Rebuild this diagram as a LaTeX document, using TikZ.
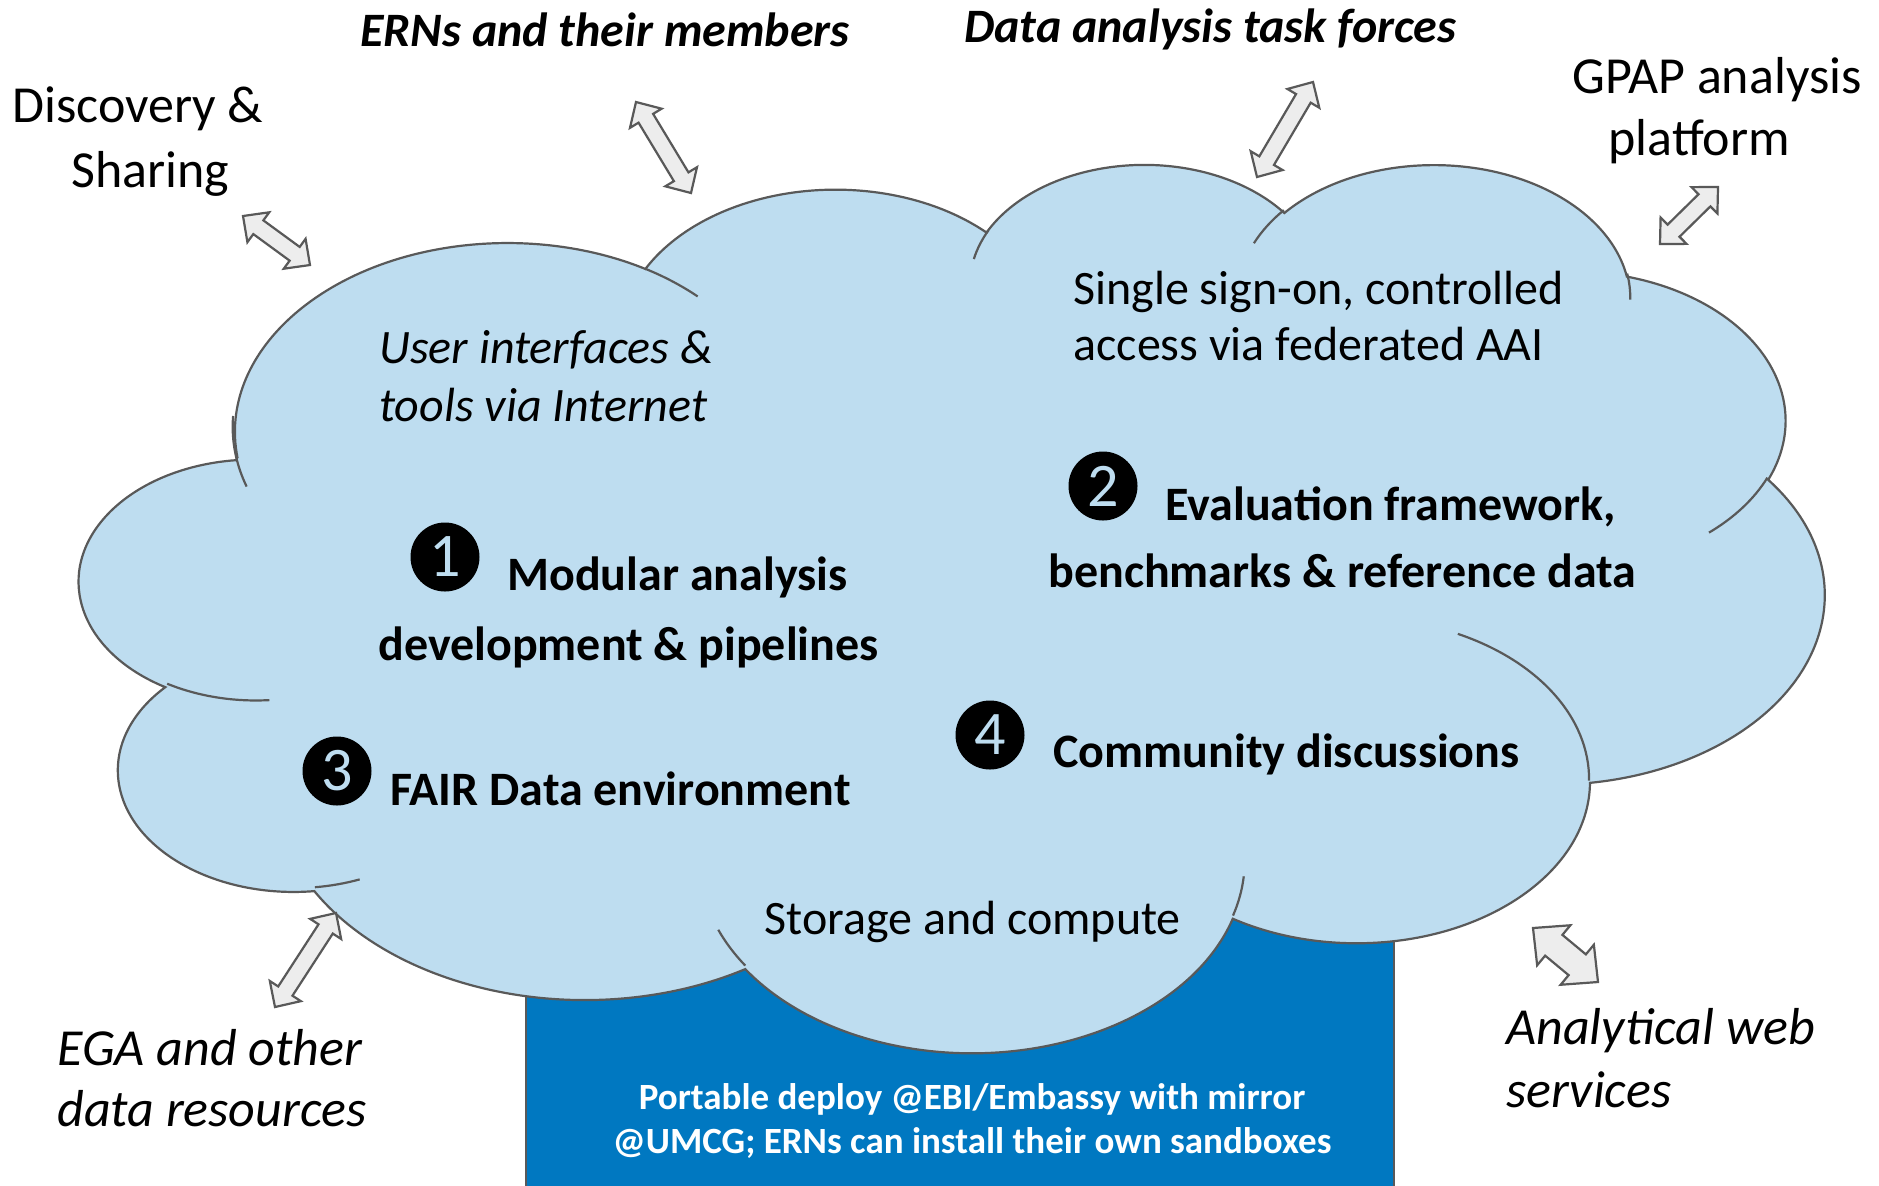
\documentclass[tikz,border=0pt]{standalone}
\usepackage{fontspec}
\setmainfont{Carlito}
\usetikzlibrary{calc}
\definecolor{cloudfill}{RGB}{190,221,240}
\definecolor{cloudline}{RGB}{89,89,89}
\definecolor{boxblue}{RGB}{0,120,193}
\definecolor{arrowfill}{RGB}{237,237,237}
% elliptical arc given as in DrawingML: radii, visual start angle, visual sweep
\newcommand\prepArc[5]{%
  \pgfmathsetmacro\cldS{atan2(#2*sin(#4),#3*cos(#4))}%
  \pgfmathsetmacro\cldE{atan2(#2*sin(#4+#5),#3*cos(#4+#5))}%
  \pgfmathsetmacro\cldD{mod(\cldE-\cldS+540,360)-180}%
  \edef#1{arc[x radius=#2, y radius=#3, start angle=\cldS, delta angle=\cldD]}}
% double block arrow between two named coordinates
\newcommand\dblarrow[5]{%
  \draw[arr] (#1) -- ($(#1)!#3!(#2)!#4!90:(#2)$) -- ($(#1)!#3!(#2)!#5!90:(#2)$)
   -- ($(#2)!#3!(#1)!#5!-90:(#1)$) -- ($(#2)!#3!(#1)!#4!-90:(#1)$) -- (#2)
   -- ($(#2)!#3!(#1)!#4!90:(#1)$) -- ($(#2)!#3!(#1)!#5!90:(#1)$)
   -- ($(#1)!#3!(#2)!#5!-90:(#2)$) -- ($(#1)!#3!(#2)!#4!-90:(#2)$) -- cycle;}
\begin{document}
\begin{tikzpicture}[x=0.5pt,y=-0.5pt,
  cloud/.style={fill=cloudfill, draw=cloudline, line width=1.1pt},
  cloudinner/.style={draw=cloudline, line width=1.1pt},
  arr/.style={fill=arrowfill, draw=cloudline, line width=1.1pt, line join=miter},
  deploybox/.style={fill=boxblue, draw=cloudline, line width=1.1pt},
  txt/.style={inner sep=0pt, anchor=base west, font=\fontsize{24}{29}\selectfont},
  txtit/.style={inner sep=0pt, anchor=base west, font=\fontsize{24}{29}\selectfont\itshape},
  txtbf/.style={inner sep=0pt, anchor=base west, font=\fontsize{24}{29}\selectfont\bfseries},
  txtbi/.style={inner sep=0pt, anchor=base west, font=\fontsize{24}{29}\selectfont\bfseries\itshape},
  big/.style={inner sep=0pt, anchor=base west, font=\fontsize{26}{31}\selectfont},
  bigit/.style={inner sep=0pt, anchor=base west, font=\fontsize{26}{31}\selectfont\itshape},
  deploytxt/.style={inner sep=0pt, anchor=base, text=white, font=\fontsize{18.5}{22}\selectfont\bfseries},
  num/.style={circle, fill=black, minimum size=34.5pt, inner sep=0pt, text=cloudfill,
    font=\fontsize{31}{31}\selectfont}]
\useasboundingbox (0,0) rectangle (1879,1185);
\fill[white] (0,0) rectangle (1879,1185);
% deployment box behind the cloud
\draw[deploybox] (526,850) rectangle (1394,1195);
% cloud (DrawingML preset geometry)
\begin{scope}[shift={(80,162)}, x=2.01852pt, y=-1.02778pt]
  \prepArc\cAa{67.53}{91.90}{-190.4875}{123.7805}
  \prepArc\cAb{53.33}{72.67}{-144.1024}{89.9452}
  \prepArc\cAc{43.65}{59.45}{-145.8079}{99.7230}
  \prepArc\cAd{48.57}{65.95}{-130.9861}{117.2417}
  \prepArc\cAe{53.33}{72.73}{-78.7089}{109.0269}
  \prepArc\cAf{67.75}{92.20}{-46.2673}{130.2690}
  \prepArc\cAg{57.85}{78.67}{0.6250}{114.0333}
  \prepArc\cAh{67.52}{92.15}{22.4516}{115.1726}
  \prepArc\cAi{77.20}{105.43}{66.2426}{75.7110}
  \prepArc\cAj{43.60}{59.18}{-274.9421}{146.7356}
  \prepArc\cAk{43.45}{59.45}{-246.8285}{152.5189}
  \draw[cloud] (39.00,143.70) \cAa \cAb \cAc \cAd \cAe \cAf \cAg \cAh \cAi \cAj \cAk -- cycle;
  \prepArc\cIa{43.45}{59.45}{86.7420}{26.4295}
  \prepArc\cIb{43.60}{59.18}{73.6105}{11.4475}
  \prepArc\cIc{67.52}{92.15}{137.6242}{14.0811}
  \prepArc\cId{67.52}{92.15}{6.4533}{15.9984}
  \prepArc\cIe{57.85}{78.67}{-70.2924}{70.9174}
  \prepArc\cIf{53.33}{72.73}{30.3180}{27.7515}
  \prepArc\cIg{48.57}{65.95}{-13.7443}{14.8589}
  \prepArc\cIh{48.57}{65.95}{-149.1815}{18.1954}
  \prepArc\cIi{43.65}{59.45}{-163.4943}{17.6864}
  \prepArc\cIj{67.53}{91.90}{-66.7070}{12.3194}
  \prepArc\cIk{67.53}{91.90}{155.6472}{28.8774}
  \draw[cloudinner] (46.93,261.77) \cIa (69.28,348.99) \cIb (164.78,390.90) \cIc
    (288.27,347.51) \cId (341.29,229.54) \cIe (417.98,153.54) \cIf
    (383.24,54.26) \cIg (290.78,39.52) \cIh (221.41,47.20) \cIi
    (140.00,51.92) \cIj (41.27,157.89) \cIk;
\end{scope}
% arrow end points
\coordinate (aA1) at (243,216);  \coordinate (aA2) at (310,265);
\coordinate (aB1) at (636,102);  \coordinate (aB2) at (691,193);
\coordinate (aC1) at (1313,82);  \coordinate (aC2) at (1257,177);
\coordinate (aD1) at (1718,187); \coordinate (aD2) at (1660,244);
\coordinate (aE1) at (336,913);  \coordinate (aE2) at (275,1007);
\coordinate (aF1) at (1533,928); \coordinate (aF2) at (1598,982);
\dblarrow{aA1}{aA2}{9.5pt}{9.25pt}{4.25pt}
\dblarrow{aB1}{aB2}{9.5pt}{9.25pt}{4.25pt}
\dblarrow{aC1}{aC2}{9.5pt}{9.25pt}{4.25pt}
\dblarrow{aD1}{aD2}{9.5pt}{9.25pt}{4.25pt}
\dblarrow{aE1}{aE2}{9.5pt}{9.25pt}{4.25pt}
\dblarrow{aF1}{aF2}{13.5pt}{13pt}{6.75pt}
% outside labels
\node[big] (disc1) at (12,122) {Discovery \&};
\node[big] (disc2) at (71,187) {Sharing};
\node[txtbi] (erns) at (360,46) {ERNs and their members};
\node[txtbi] (task) at (964,42) {Data analysis task forces};
\node[big] (gpap1) at (1572,93) {GPAP analysis};
\node[big] (gpap2) at (1608,155) {platform};
\node[bigit] (ega1) at (57,1065) {EGA and other};
\node[bigit] (ega2) at (57,1126) {data resources};
\node[bigit] (aws1) at (1506,1044) {Analytical web};
\node[bigit] (aws2) at (1506,1107) {services};
% inside the cloud
\node[txtit] (ui1) at (379,363) {User interfaces \&};
\node[txtit] (ui2) at (379,421) {tools via Internet};
\node[txt] (sso1) at (1073,304) {Single sign-on, controlled};
\node[txt] (sso2) at (1073,360) {access via federated AAI};
\node[num] (n1) at (445,557) {1};
\node[txtbf] (mod1) at (507,590) {Modular analysis};
\node[txtbf] (mod2) at (378,660) {development \& pipelines};
\node[num] (n2) at (1103,486) {2};
\node[txtbf] (eval1) at (1165,520) {Evaluation framework,};
\node[txtbf] (eval2) at (1048,587) {benchmarks \& reference data};
\node[num] (n3) at (337,771) {3};
\node[txtbf] (fair) at (390,805) {FAIR Data environment};
\node[num] (n4) at (990,735) {4};
\node[txtbf] (comm) at (1053,767) {Community discussions};
\node[txt] (stor) at (764,934) {Storage and compute};
% deployment box text
\node[deploytxt] (dep1) at (972,1109) {Portable deploy @EBI/Embassy with mirror};
\node[deploytxt] (dep2) at (972,1153) {@UMCG; ERNs can install their own sandboxes};
\end{tikzpicture}
\end{document}
